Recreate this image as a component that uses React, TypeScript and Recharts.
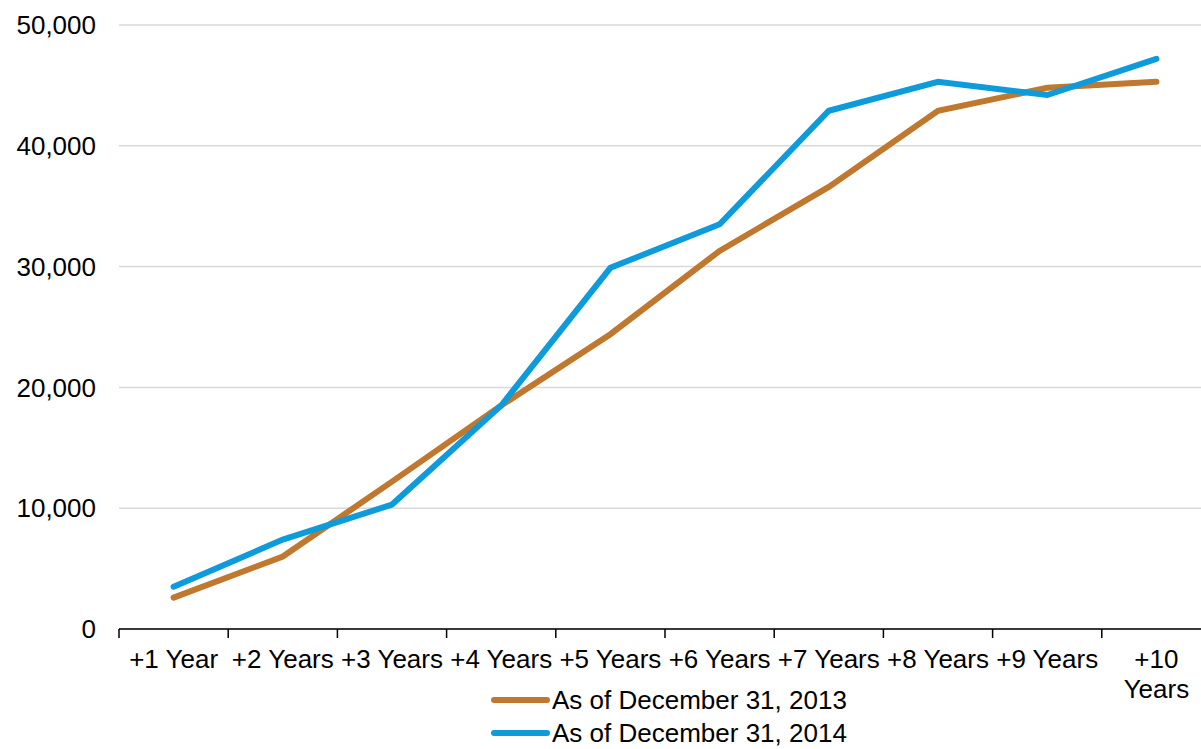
import { LineChart, Line, XAxis, YAxis, CartesianGrid, Legend } from 'recharts';

const categories = [
  '+1 Year',
  '+2 Years',
  '+3 Years',
  '+4 Years',
  '+5 Years',
  '+6 Years',
  '+7 Years',
  '+8 Years',
  '+9 Years',
  '+10 Years',
];
const values2013 = [2600, 6000, 12200, 18500, 24400, 31300, 36600, 42900, 44800, 45300];
const values2014 = [3500, 7400, 10300, 18500, 29900, 33500, 42900, 45300, 44200, 47200];
const yTicks = [0, 10000, 20000, 30000, 40000, 50000];

const FONT = '"Liberation Sans", Arial, sans-serif';
const CHART_W = 1215;
const PLOT_LEFT = 119;
const PLOT_RIGHT = 1211;
const BAND = (PLOT_RIGHT - PLOT_LEFT) / categories.length;

const data = categories.map((name, i) => ({
  name,
  y2013: values2013[i],
  y2014: values2014[i],
}));

let measureCtx: CanvasRenderingContext2D | null = null;
function textWidth(s: string) {
  if (!measureCtx) {
    measureCtx = document.createElement('canvas').getContext('2d');
    if (measureCtx) measureCtx.font = `26px ${FONT}`;
  }
  return measureCtx ? measureCtx.measureText(s).width : s.length * 13;
}

// wrap a label onto word lines when it does not fit in one category band
function wrapLabel(label: string) {
  if (textWidth(label) <= BAND + 2) return [label];
  return label.split(' ');
}

function CategoryTick(props: any) {
  const { x, y, payload, index } = props;
  const last = index === categories.length - 1;
  const lines = wrapLabel(String(payload.value));
  return (
    <g>
      <line x1={x - BAND / 2} y1={y - 8} x2={x - BAND / 2} y2={y + 1} stroke="#000" strokeWidth={1.5} />
      {last && (
        <line x1={x + BAND / 2} y1={y - 8} x2={x + BAND / 2} y2={y + 1} stroke="#000" strokeWidth={1.5} />
      )}
      <text x={x} y={y + 31} textAnchor="middle" fontSize={26} fontFamily={FONT} fill="#000">
        {lines.map((ln, i) => (
          <tspan key={i} x={x} dy={i === 0 ? 0 : 30}>
            {ln}
          </tspan>
        ))}
      </text>
    </g>
  );
}

function LegendBox({ payload }: any) {
  return (
    <div style={{ fontFamily: FONT, fontSize: 26, color: '#000' }}>
      {(payload || []).map((entry: any, i: number) => (
        <div
          key={entry.value}
          style={{ display: 'flex', alignItems: 'center', height: 24, marginTop: i === 0 ? 0 : 9 }}
        >
          <svg width={60} height={10} style={{ marginRight: 1 }}>
            <line x1={3} y1={5} x2={56} y2={5} stroke={entry.color} strokeWidth={6} strokeLinecap="round" />
          </svg>
          <span style={{ lineHeight: '24px', whiteSpace: 'nowrap' }}>{entry.value}</span>
        </div>
      ))}
    </div>
  );
}

export default function App() {
  return (
    <div
      style={{
        position: 'absolute',
        left: 0,
        top: 0,
        width: 1201,
        height: 749,
        overflow: 'hidden',
        background: '#fff',
      }}
    >
      <LineChart
        width={CHART_W}
        height={749}
        data={data}
        margin={{ top: 25, right: CHART_W - PLOT_RIGHT, bottom: 0, left: 0 }}
      >
        <CartesianGrid vertical={false} stroke="#d9d9d9" strokeWidth={1.5} />
        <XAxis
          dataKey="name"
          height={120}
          interval={0}
          padding={{ left: BAND / 2, right: BAND / 2 }}
          axisLine={{ stroke: '#000', strokeWidth: 1.5 }}
          tickLine={false}
          tick={<CategoryTick />}
        />
        <YAxis
          width={PLOT_LEFT}
          domain={[0, 50000]}
          ticks={yTicks}
          axisLine={false}
          tickLine={false}
          tickSize={8}
          tickMargin={15}
          tickFormatter={(v: number) => v.toLocaleString('en-US')}
          tick={{ fill: '#000', fontSize: 26, fontFamily: FONT }}
        />
        <Legend
          layout="horizontal"
          verticalAlign="middle"
          align="center"
          content={<LegendBox />}
          wrapperStyle={{ position: 'absolute', left: 491, top: 688, width: 'auto' }}
        />
        <Line
          type="linear"
          dataKey="y2013"
          name="As of December 31, 2013"
          stroke="#c0782e"
          strokeWidth={6}
          strokeLinecap="round"
          dot={false}
          isAnimationActive={false}
        />
        <Line
          type="linear"
          dataKey="y2014"
          name="As of December 31, 2014"
          stroke="#0d9bdb"
          strokeWidth={6}
          strokeLinecap="round"
          dot={false}
          isAnimationActive={false}
        />
      </LineChart>
    </div>
  );
}
